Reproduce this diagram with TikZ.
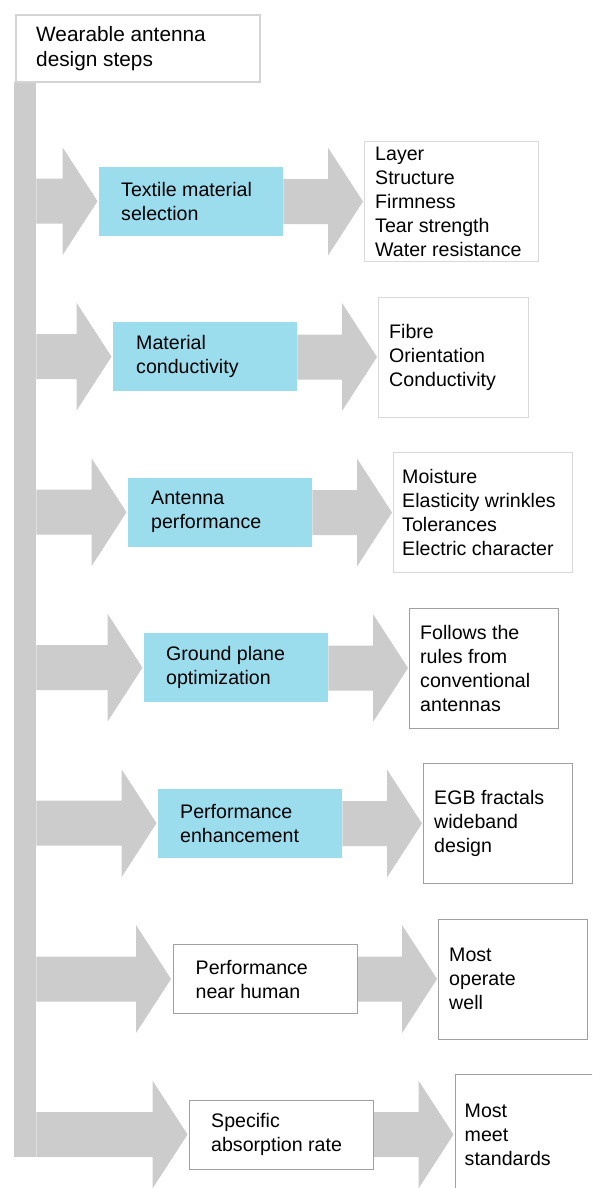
\documentclass[tikz,border=0pt]{standalone}
\usepackage{fontspec}
\setmainfont{Liberation Sans}
\usetikzlibrary{calc,backgrounds}
\definecolor{arrowgray}{RGB}{204,204,204}
\definecolor{stepblue}{RGB}{155,221,237}
\definecolor{lightborder}{RGB}{217,217,217}
\definecolor{darkborder}{RGB}{160,160,160}
\definecolor{titleborder}{RGB}{212,212,212}
\tikzset{
  box/.style={rectangle, inner sep=0pt, anchor=north west},
  stepbox/.style={box, fill=stepblue, minimum width=184pt, minimum height=69pt},
  humanbox/.style={box, fill=white, draw=darkborder, line width=1pt, minimum width=184pt, minimum height=69pt},
  resbox/.style={box, fill=white, draw=lightborder, line width=1pt, minimum height=120pt},
  resboxdark/.style={resbox, draw=darkborder},
  txt/.style={anchor=west, align=left, inner sep=0pt, font=\fontsize{19.6}{24}\selectfont},
  titletxt/.style={txt, font=\fontsize{20.8}{25}\selectfont},
}
\newcommand{\blockarrow}[2]{%
  \fill[arrowgray] let \p1=(#1), \p2=(#2) in
  (\x1,\y2+22.5pt) -- (\x2-35pt,\y2+22.5pt) -- (\x2-35pt,\y2+54pt) -- (\x2,\y2)
  -- (\x2-35pt,\y2-54pt) -- (\x2-35pt,\y2-22.5pt) -- (\x1,\y2-22.5pt) -- cycle;}
\begin{document}
\begin{tikzpicture}[x=1pt,y=-1pt]
\useasboundingbox (0,0) rectangle (592,1188);
\clip (0,0) rectangle (592,1188);

% spine and title
\node[box, fill=arrowgray, minimum width=22pt, minimum height=1075pt] (bar) at (14,82) {};
\node[box, draw=titleborder, line width=2pt, fill=white, minimum width=244pt, minimum height=67pt] (title) at (15,14.5) {};
\node[titletxt] (titletext) at ([xshift=21pt]title.west) {Wearable antenna\\design steps};

% row 1
\node[stepbox] (s1) at (99,166.5) {};
\node[txt] (ts1) at ([xshift=22pt]s1.west) {Textile material\\selection};
\node[resbox, minimum width=174pt] (r1) at (364,141) {};
\node[txt] (tr1) at ([xshift=11pt]r1.west) {Layer\\Structure\\Firmness\\Tear strength\\Water resistance};

% row 2
\node[stepbox] (s2) at (113,322) {};
\node[txt] (ts2) at ([xshift=23pt]s2.west) {Material\\conductivity};
\node[resbox, minimum width=150pt] (r2) at (378,296.5) {};
\node[txt] (tr2) at ([xshift=11pt]r2.west) {Fibre\\Orientation\\Conductivity};

% row 3
\node[stepbox] (s3) at (128,477.5) {};
\node[txt] (ts3) at ([xshift=23pt]s3.west) {Antenna\\performance};
\node[resbox, minimum width=179pt] (r3) at (393,452) {};
\node[txt] (tr3) at ([xshift=9pt]r3.west) {Moisture\\Elasticity wrinkles\\Tolerances\\Electric character};

% row 4
\node[stepbox] (s4) at (144,633) {};
\node[txt] (ts4) at ([xshift=22pt]s4.west) {Ground plane\\optimization};
\node[resboxdark, minimum width=149pt] (r4) at (409,607.5) {};
\node[txt] (tr4) at ([xshift=11pt]r4.west) {Follows the\\rules from\\conventional\\antennas};

% row 5
\node[stepbox] (s5) at (158,788.5) {};
\node[txt] (ts5) at ([xshift=22pt]s5.west) {Performance\\enhancement};
\node[resboxdark, minimum width=149pt] (r5) at (423,763) {};
\node[txt] (tr5) at ([xshift=11pt]r5.west) {EGB fractals\\wideband\\design};

% row 6
\node[humanbox] (s6) at (172.5,944) {};
\node[txt] (ts6) at ([xshift=23pt]s6.west) {Performance\\near human};
\node[resboxdark, minimum width=149pt] (r6) at (438,918.5) {};
\node[txt] (tr6) at ([xshift=11pt]r6.west) {Most\\operate\\well};

% row 7
\node[humanbox] (s7) at (189,1099.5) {};
\node[txt] (ts7) at ([xshift=22pt]s7.west) {Specific\\absorption rate};
\node[resboxdark, minimum width=150pt] (r7) at (454.5,1074) {};
\node[txt] (tr7) at ([xshift=10pt]r7.west) {Most\\meet\\standards};

\begin{pgfonlayer}{background}
\fill[white] (0,0) rectangle (592,1188);
\foreach \k in {1,...,7}{
  \blockarrow{bar.east}{$(s\k.west)+(-1.5,0)$}
  \blockarrow{s\k.east}{$(r\k.west)+(-1,0)$}
}
\end{pgfonlayer}
\end{tikzpicture}
\end{document}
